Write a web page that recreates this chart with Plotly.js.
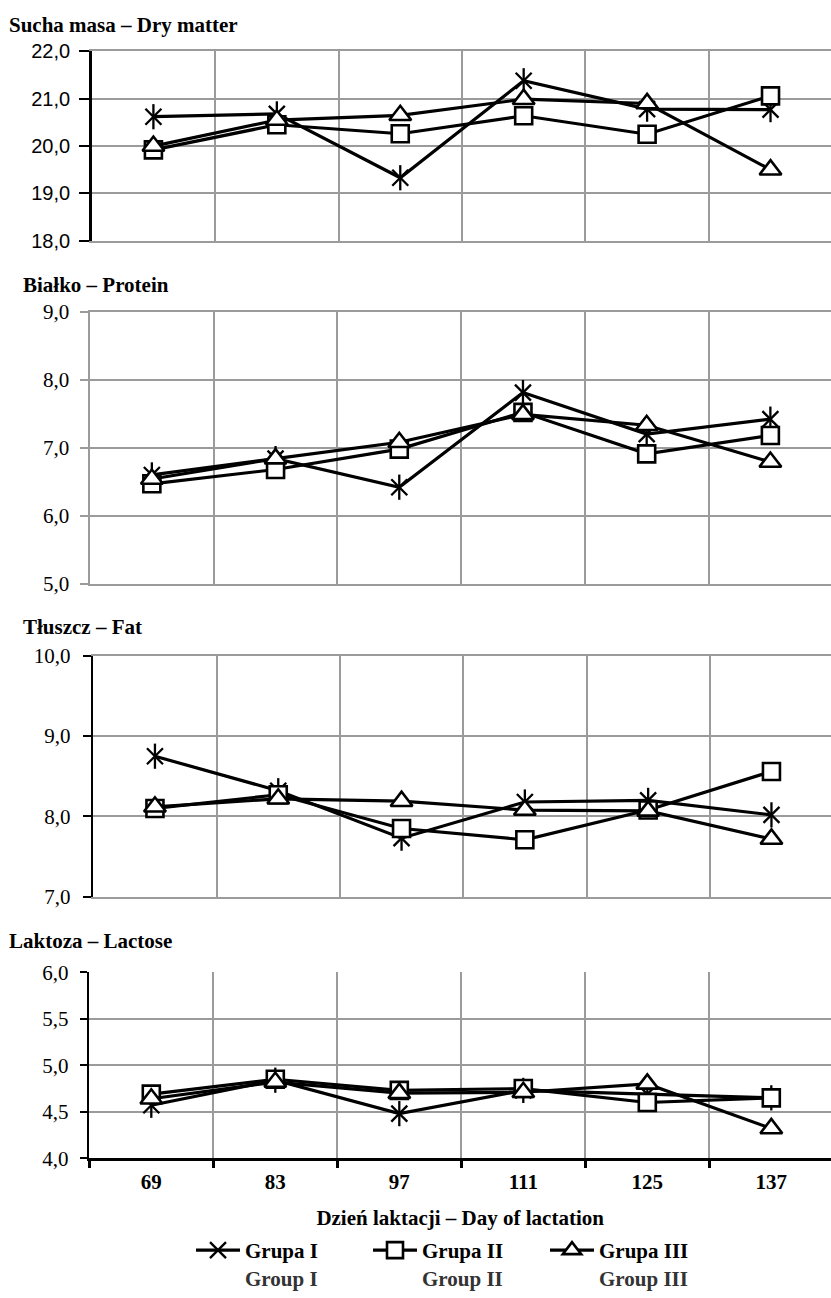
<!DOCTYPE html>
<html>
<head>
<meta charset="utf-8">
<script src="https://cdn.plot.ly/plotly-3.0.1.min.js"></script>
<style>html,body{margin:0;padding:0;background:#fff;}#chart{width:831px;height:1298px;}</style>
</head>
<body>
<div id="chart"></div>
<script>
// ---- data ----
const days = ['69', '83', '97', '111', '125', '137'];

const dryMatterI   = [20.62, 20.68, 19.33, 21.38, 20.78, 20.77];
const dryMatterII  = [19.92, 20.45, 20.26, 20.64, 20.25, 21.06];
const dryMatterIII = [20.00, 20.55, 20.65, 20.99, 20.90, 19.50];

const proteinI   = [6.60, 6.84, 6.42, 7.81, 7.20, 7.42];
const proteinII  = [6.47, 6.68, 6.98, 7.52, 6.91, 7.18];
const proteinIII = [6.54, 6.84, 7.08, 7.49, 7.33, 6.79];

const fatI   = [8.75, 8.32, 7.73, 8.18, 8.20, 8.02];
const fatII  = [8.10, 8.27, 7.85, 7.71, 8.08, 8.56];
const fatIII = [8.12, 8.22, 8.19, 8.08, 8.07, 7.72];

const lactoseI   = [4.57, 4.84, 4.48, 4.73, 4.69, 4.65];
const lactoseII  = [4.69, 4.85, 4.73, 4.75, 4.60, 4.65];
const lactoseIII = [4.64, 4.82, 4.70, 4.71, 4.80, 4.32];

const groupNamesPl = ['Grupa I', 'Grupa II', 'Grupa III'];
const groupNamesEn = ['Group I', 'Group II', 'Group III'];
const panelTitles = ['Sucha masa – Dry matter', 'Białko – Protein', 'Tłuszcz – Fat', 'Laktoza – Lactose'];
const xAxisTitle = 'Dzień laktacji – Day of lactation';

// ---- styling / layout helpers ----
const W = 831, H = 1298;
const SERIF = 'Liberation Serif, Times New Roman, serif';
const SANS = 'Liberation Sans, Arial, sans-serif';
const GRID = '#9b9b9b';
const panels = [
  {series: [dryMatterI, dryMatterII, dryMatterIII], range: [18, 22], dtick: 1, top: 51.7, bottom: 242, left: 91.7, step: 123.3, axisColor: '#000', tickLen: 10, tickFont: SANS, tickSize: 20, standoff: 5, titleX: 7, titleY: 25},
  {series: [proteinI, proteinII, proteinIII], range: [5, 9], dtick: 1, top: 313.3, bottom: 587, left: 90, step: 123, axisColor: GRID, tickLen: 8, tickFont: SERIF, tickSize: 21, standoff: 6, titleX: 21, titleY: 287},
  {series: [fatI, fatII, fatIII], range: [7, 10], dtick: 1, top: 659.3, bottom: 901.7, left: 93.3, step: 123.3, axisColor: '#000', tickLen: 8, tickFont: SERIF, tickSize: 21, standoff: 8, titleX: 21, titleY: 630},
  {series: [lactoseI, lactoseII, lactoseIII], range: [4, 6], dtick: 0.5, top: 977.7, bottom: 1164.5, left: 89.3, step: 124, axisColor: '#000', tickLen: 7, tickFont: SERIF, tickSize: 21, standoff: 7, titleX: 7, titleY: 946}
];

const traces = [];
const layout = {
  width: W, height: H,
  margin: {l: 0, r: 0, t: 0, b: 0},
  paper_bgcolor: '#fff', plot_bgcolor: '#fff',
  separators: ', ',
  showlegend: true,
  annotations: [],
  legend: {
    orientation: 'h',
    x: 191 / W, xanchor: 'left',
    y: 1 - 1237 / H, yanchor: 'top',
    valign: 'top',
    itemwidth: 44,
    entrywidth: 118, entrywidthmode: 'pixels',
    font: {family: SERIF, size: 21, color: '#000', weight: 'bold'},
    bgcolor: 'rgba(0,0,0,0)',
    traceorder: 'normal'
  }
};

panels.forEach((p, i) => {
  const n = i + 1;
  const xa = 'xaxis' + (n === 1 ? '' : n), ya = 'yaxis' + (n === 1 ? '' : n);
  const xr = 'x' + (n === 1 ? '' : n), yr = 'y' + (n === 1 ? '' : n);
  const last = i === panels.length - 1;
  const xEnd = Math.min(5.49, -0.5 + (W - p.left) / p.step);
  layout[xa] = {
    domain: [p.left / W, 1], anchor: yr,
    type: 'category', categoryorder: 'array', categoryarray: days,
    range: [-0.5, xEnd],
    tickson: 'boundaries',
    showgrid: true, gridcolor: GRID, gridwidth: 2,
    showticklabels: last,
    ticks: last ? 'outside' : '', ticklen: 7, tickwidth: 2.5, tickcolor: '#000',
    ticklabelstandoff: last ? 3 : 0,
    tickfont: {family: SERIF, size: 21, color: '#000', weight: 'bold'},
    showline: true, linewidth: last ? 2.5 : 2, linecolor: last ? '#000' : GRID,
    mirror: last ? false : true,
    zeroline: false, fixedrange: true
  };
  if (last) {
    layout[xa].title = {text: xAxisTitle, standoff: 18, font: {family: SERIF, size: 21, color: '#000', weight: 'bold'}};
    layout[xa].automargin = false;
  }
  layout[ya] = {
    domain: [1 - p.bottom / H, 1 - p.top / H], anchor: xr,
    range: p.range, dtick: p.dtick, tick0: p.range[0], tickformat: '.1f',
    showgrid: true, gridcolor: GRID, gridwidth: 2,
    showline: true, linecolor: p.axisColor, linewidth: 2.5,
    ticks: 'outside', ticklen: p.tickLen, tickwidth: 2, tickcolor: p.axisColor,
    ticklabelstandoff: p.standoff,
    tickfont: {family: p.tickFont, size: p.tickSize, color: '#000'},
    zeroline: false, fixedrange: true
  };
  layout.annotations.push({
    text: panelTitles[i], xref: 'paper', yref: 'paper',
    x: p.titleX / W, y: 1 - p.titleY / H, xanchor: 'left', yanchor: 'middle',
    showarrow: false, font: {family: SERIF, size: 21, color: '#000', weight: 'bold'}
  });

  p.series.forEach((vals, g) => {
    const name = groupNamesPl[g] + "<br><span style='color:#333'>" + groupNamesEn[g] + '</span>';
    const base = {
      x: days, y: vals, xaxis: xr, yaxis: yr, type: 'scatter', mode: 'lines+markers',
      name: name, legendgroup: 'g' + g, showlegend: i === 0,
      line: {color: '#000', width: 3.2},
      cliponaxis: false
    };
    if (g === 0) {
      base.marker = {symbol: 'x-thin-open', size: 16, color: '#000', line: {color: '#000', width: 2.3}};
      traces.push(base);
      traces.push({
        x: days, y: vals, xaxis: xr, yaxis: yr, type: 'scatter', mode: 'markers',
        legendgroup: 'g0', showlegend: false, hoverinfo: 'skip', cliponaxis: false,
        marker: {symbol: 'line-ns-open', size: 18, color: '#000', line: {color: '#000', width: 2.3}}
      });
    } else if (g === 1) {
      base.marker = {symbol: 'square', size: 17, color: '#fff', line: {color: '#000', width: 2.6}};
      traces.push(base);
    } else {
      base.marker = {symbol: 'triangle-up', size: 19, color: '#fff', line: {color: '#000', width: 2.6}};
      traces.push(base);
    }
  });
});

Plotly.newPlot('chart', traces, layout, {staticPlot: true, displayModeBar: false});
</script>
</body>
</html>
